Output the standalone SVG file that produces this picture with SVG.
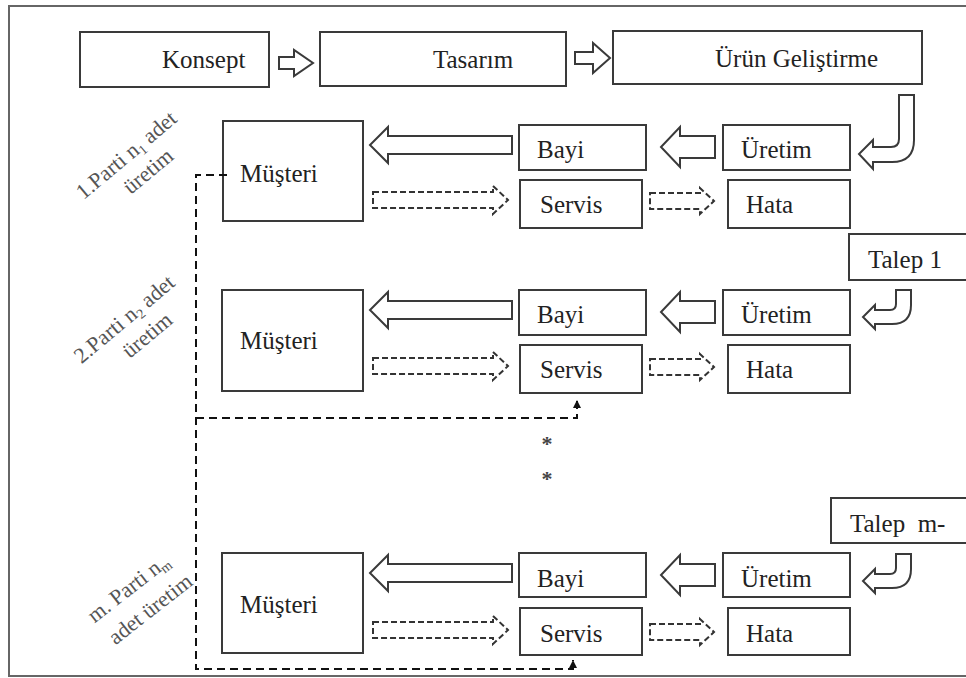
<svg xmlns="http://www.w3.org/2000/svg" xmlns:xlink="http://www.w3.org/1999/xlink" width="966" height="678" viewBox="0 0 966 678">
<style>
.box{fill:#fff;stroke:#3a3a3a;stroke-width:2}
.lbl{font-family:'Liberation Serif','Times New Roman',serif;font-size:25px;fill:#222}
.rt{font-family:'Liberation Serif','Times New Roman',serif;font-size:22px;fill:#555;text-anchor:middle}
.blk{fill:#fff;stroke:#3a3a3a;stroke-width:2;stroke-linejoin:miter}
.dsh{fill:#fff;stroke:#333;stroke-width:2;stroke-dasharray:6,3}
.link{fill:none;stroke:#111;stroke-width:2;stroke-dasharray:8,5}
.star{font-family:'Liberation Serif','Times New Roman',serif;font-size:22px;font-weight:bold;fill:#444;text-anchor:middle}
</style>
<defs>
<marker id="up" markerUnits="userSpaceOnUse" markerWidth="8" markerHeight="8" refX="8" refY="4" orient="auto">
<path d="M0,0 L8,4 L0,8 Z" fill="#111"/>
</marker>
<path id="bigArrow" d="M512,136 H388 V127 L370,145 L388,163 V154 H512 Z"/>
<path id="smallArrow" d="M715,136 H680 V127 L661,147 L680,167 V158 H715 Z"/>
<path id="dashL" d="M373,192 H493 V186 L508,200 L493,214 V208 H373 Z"/>
<path id="dashR" d="M650,193 H700 V188 L714,201 L700,214 V209 H650 Z"/>
<path id="jArrow" d="M896,290 H911 V305 Q911,324 892,324 H875 V329 L863,317 L875,305 V310 H890 Q896,310 896,304 Z"/>
</defs>

<rect x="9" y="6" width="1000" height="670" fill="none" stroke="#666" stroke-width="2"/>

<g id="konsept"><rect class="box" x="80" y="32" width="189" height="55"/><text class="lbl" x="162" y="68">Konsept</text></g>
<g id="tasarim"><rect class="box" x="320" y="32" width="246" height="54"/><text class="lbl" x="433" y="68">Tasarım</text></g>
<g id="urun-gelistirme"><rect class="box" x="613" y="31" width="309" height="53"/><text class="lbl" x="715" y="67">Ürün Geliştirme</text></g>

<g id="musteri-1"><rect class="box" x="223" y="121" width="140" height="100"/><text class="lbl" x="240" y="182">Müşteri</text></g>
<g id="bayi-1"><rect class="box" x="519" y="125" width="127" height="45"/><text class="lbl" x="537" y="158">Bayi</text></g>
<g id="servis-1"><rect class="box" x="520" y="180" width="122" height="48"/><text class="lbl" x="540" y="213">Servis</text></g>
<g id="uretim-1"><rect class="box" x="723" y="125" width="127" height="45"/><text class="lbl" x="741" y="158">Üretim</text></g>
<g id="hata-1"><rect class="box" x="728" y="180" width="122" height="48"/><text class="lbl" x="746" y="213">Hata</text></g>

<g id="talep-1"><rect class="box" x="849" y="234" width="140" height="46"/><text class="lbl" x="868" y="268">Talep 1</text></g>

<g id="musteri-2"><rect class="box" x="222" y="290" width="141" height="101"/><text class="lbl" x="240" y="349">Müşteri</text></g>
<g id="bayi-2"><rect class="box" x="519" y="290" width="127" height="45"/><text class="lbl" x="537" y="323">Bayi</text></g>
<g id="servis-2"><rect class="box" x="520" y="345" width="122" height="48"/><text class="lbl" x="540" y="378">Servis</text></g>
<g id="uretim-2"><rect class="box" x="723" y="290" width="127" height="45"/><text class="lbl" x="741" y="323">Üretim</text></g>
<g id="hata-2"><rect class="box" x="728" y="345" width="122" height="48"/><text class="lbl" x="746" y="378">Hata</text></g>

<g id="talep-m"><rect class="box" x="831" y="498" width="160" height="45"/><text class="lbl" x="850" y="532" xml:space="preserve">Talep  m-</text></g>

<g id="musteri-3"><rect class="box" x="222" y="553" width="141" height="100"/><text class="lbl" x="240" y="613">Müşteri</text></g>
<g id="bayi-3"><rect class="box" x="519" y="553" width="127" height="44"/><text class="lbl" x="537" y="587">Bayi</text></g>
<g id="servis-3"><rect class="box" x="520" y="608" width="122" height="47"/><text class="lbl" x="540" y="642">Servis</text></g>
<g id="uretim-3"><rect class="box" x="723" y="553" width="127" height="44"/><text class="lbl" x="741" y="587">Üretim</text></g>
<g id="hata-3"><rect class="box" x="728" y="608" width="122" height="47"/><text class="lbl" x="746" y="642">Hata</text></g>

<g id="labels">
<g transform="translate(127,156) rotate(-40)"><text class="rt" x="0" y="6">1.Parti n<tspan font-size="14" dy="4">1</tspan><tspan dy="-4"> adet</tspan></text></g>
<g transform="translate(149,172) rotate(-40)"><text class="rt" x="0" y="6">üretim</text></g>
<g transform="translate(125,320) rotate(-40)"><text class="rt" x="0" y="6">2.Parti n<tspan font-size="14" dy="4">2</tspan><tspan dy="-4"> adet</tspan></text></g>
<g transform="translate(148,336) rotate(-40)"><text class="rt" x="0" y="6">üretim</text></g>
<g transform="translate(129,589) rotate(-38)"><text class="rt" x="0" y="6">m. Parti n<tspan font-size="14" dy="4">m</tspan></text></g>
<g transform="translate(151,610) rotate(-38)"><text class="rt" x="0" y="6">adet üretim</text></g>
<text class="star" x="547" y="451">*</text>
<text class="star" x="547" y="486">*</text>
</g>

<g id="connectors">
<path class="blk" d="M279,57 H294 V50 L313,63 L294,76 V69 H279 Z"/>
<path class="blk" d="M575,52 H593 V43 L610,58 L593,73 V64 H575 Z"/>
<path class="blk" d="M899,95 H914 V140 Q914,162 892,162 H873 V169 L859,154 L873,140 V147 H891 Q899,147 899,139 Z"/>
<use xlink:href="#bigArrow" class="blk"/>
<use xlink:href="#smallArrow" class="blk"/>
<use xlink:href="#dashL" class="dsh"/>
<use xlink:href="#dashR" class="dsh"/>
<use xlink:href="#bigArrow" class="blk" transform="translate(0,165)"/>
<use xlink:href="#smallArrow" class="blk" transform="translate(0,165)"/>
<use xlink:href="#dashL" class="dsh" transform="translate(0,166)"/>
<use xlink:href="#dashR" class="dsh" transform="translate(0,166)"/>
<use xlink:href="#jArrow" class="blk"/>
<use xlink:href="#bigArrow" class="blk" transform="translate(0,428)"/>
<use xlink:href="#smallArrow" class="blk" transform="translate(0,428)"/>
<use xlink:href="#dashL" class="dsh" transform="translate(0,430)"/>
<use xlink:href="#dashR" class="dsh" transform="translate(0,431)"/>
<use xlink:href="#jArrow" class="blk" transform="translate(0,264)"/>
<path class="link" d="M227,175 H196 V669 H573 V660" marker-end="url(#up)"/>
<path class="link" d="M196,418 H577 V400" marker-end="url(#up)"/>
</g>
</svg>
